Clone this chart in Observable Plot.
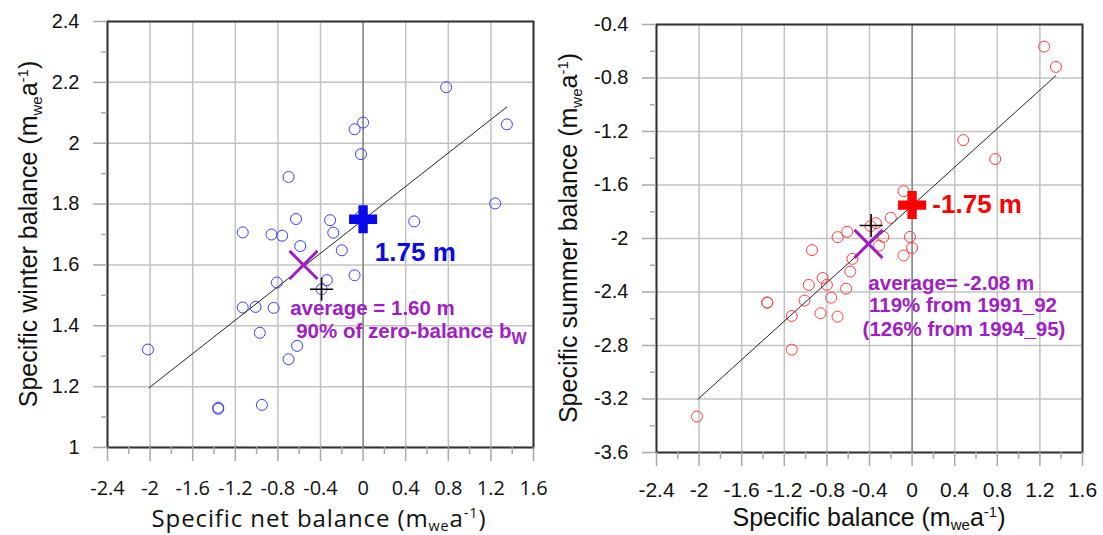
<!DOCTYPE html>
<html><head><meta charset="utf-8">
<script src="https://cdn.jsdelivr.net/npm/d3@7"></script>
<script src="https://cdn.jsdelivr.net/npm/@observablehq/plot@0.6"></script>
<style>
body{margin:0;background:#fff;}
#wrap{display:flex;width:1103px;height:535px;overflow:hidden;}
svg{display:block;}
</style></head><body><div id="wrap"></div>
<script>
// ---------- data ----------
const xTicks = [-2.4, -2, -1.6, -1.2, -0.8, -0.4, 0, 0.4, 0.8, 1.2, 1.6];
const xMinorTicks = [-2.2, -1.8, -1.4, -1.0, -0.6, -0.2, 0.2, 0.6, 1.0, 1.4];
const winterTicks = [1, 1.2, 1.4, 1.6, 1.8, 2, 2.2, 2.4];
const winterMinorTicks = [1.1, 1.3, 1.5, 1.7, 1.9, 2.1, 2.3];
const summerTicks = [-3.6, -3.2, -2.8, -2.4, -2, -1.6, -1.2, -0.8, -0.4];
const summerMinorTicks = [-3.4, -3.0, -2.6, -2.2, -1.8, -1.4, -1.0, -0.6];

// left panel: specific net balance vs winter balance
const winterNet = [0.78, 0.00, -0.08, 1.35, -0.02, -0.70, 1.24, -0.63, -0.31, 0.48, -1.13, -0.86, -0.76, -0.28, -0.59, -0.20, -0.02, -0.08, -0.34, -0.81, -0.39, -1.13, -1.01, -0.84, -0.97, -0.62, -0.70, -2.02, -1.36, -1.36, -0.95];
const winterBal = [2.184, 2.068, 2.046, 2.062, 1.964, 1.889, 1.802, 1.751, 1.747, 1.743, 1.707, 1.700, 1.696, 1.706, 1.662, 1.648, 1.760, 1.566, 1.550, 1.542, 1.520, 1.460, 1.462, 1.459, 1.377, 1.334, 1.290, 1.322, 1.127, 1.131, 1.140];
const winterFitX = [-2.01, 1.35];
const winterFitY = [1.196, 2.119];

// right panel: specific balance vs summer balance
const summerNet = [1.24, 1.35, 0.48, 0.78, -0.08, -0.20, -0.34, -0.39, -0.61, -0.70, -0.27, -0.02, -0.31, 0.00, -0.94, -0.08, -0.56, -0.58, -0.84, -0.80, -0.97, -0.62, -0.76, -1.01, -1.36, -1.13, -0.86, -0.70, -1.13, -2.02, -1.36];
const summerBal = [-0.565, -0.717, -1.264, -1.406, -1.646, -1.845, -1.885, -1.908, -1.950, -1.990, -1.988, -1.988, -2.053, -2.070, -2.087, -2.127, -2.152, -2.247, -2.295, -2.347, -2.347, -2.375, -2.442, -2.464, -2.479, -2.579, -2.559, -2.584, -2.831, -3.331, -2.479];
const summerFitX = [-2.01, 1.35];
const summerFitY = [-3.201, -0.782];

// special markers [x, y]
const winterZero = [0, 1.75];
const winterAvg = [-0.56, 1.60];
const winterRef = [-0.39, 1.52];
const summerZero = [0, -1.75];
const summerAvg = [-0.41, -2.04];
const summerRef = [-0.385, -1.903];

// annotation texts [x, y, text, kind]
const winterNotes = [
  [0.11, 1.639, "1.75 m", "big"],
  [-0.685, 1.456, "average = 1.60 m", "avg"],
  [-0.628, 1.380, "90% of zero-balance b", "avg"]
];
const summerNotes = [
  [0.19, -1.747, "-1.75 m", "big"],
  [-0.411, -2.335, "average= -2.08 m", "avg"],
  [-0.405, -2.502, "119% from 1991_92", "avg"],
  [-0.465, -2.681, "(126% from 1994_95)", "avg"]
];

// ---------- drawing ----------
const fmt = d => String(+(+d).toFixed(1));
const ARIAL = "'Liberation Sans', Arial, sans-serif";
const CALIBRI = "'Open Sans', Lato, sans-serif";
const PURPLE = "#a01ec4";

function panel(cfg) {
  const pts = cfg.xs.map((x, i) => ({x, y: cfg.ys[i]}));
  const fit = cfg.fitX.map((x, i) => ({x, y: cfg.fitY[i]}));
  const notes = cfg.notes.map(([x, y, text, kind]) => ({x, y, text, kind}));
  const plot = Plot.plot({
    width: cfg.width, height: 535,
    marginLeft: cfg.ml, marginRight: cfg.mr, marginTop: cfg.mt, marginBottom: cfg.mb,
    x: {domain: [-2.4, 1.6]},
    y: {domain: cfg.yDomain},
    style: {fontFamily: ARIAL, fontSize: "20px", color: "#222", background: "#fff"},
    marks: [
      Plot.gridX(xTicks, {stroke: "#c2c2c2", strokeOpacity: 1, strokeWidth: 1.5}),
      Plot.gridY(cfg.yTicks, {stroke: "#c2c2c2", strokeOpacity: 1, strokeWidth: 1.5}),
      Plot.gridX([0], {stroke: "#666", strokeOpacity: 1, strokeWidth: 1}),
      Plot.dot(pts, {x: "x", y: "y", r: 5.5, stroke: cfg.dotColor, strokeWidth: 1, fill: "none"}),
      Plot.line(fit, {x: "x", y: "y", stroke: "#222", strokeWidth: 1}),
      Plot.dot([cfg.zero], {x: d => d[0], y: d => d[1], symbol: "cross", r: 11.8, fill: cfg.mainColor, stroke: "none"}),
      Plot.dot([cfg.avg], {x: d => d[0], y: d => d[1], symbol: "times", r: 12.8, stroke: PURPLE, strokeWidth: 3, fill: "none"}),
      Plot.dot([cfg.ref], {x: d => d[0], y: d => d[1], symbol: "plus", r: 7.5, stroke: "#000", strokeWidth: 1.6}),
      Plot.text(notes.filter(d => d.kind === "big"), {x: "x", y: "y", text: "text", textAnchor: "start", fill: cfg.mainColor, fontWeight: "bold", fontSize: 26, fontFamily: ARIAL}),
      Plot.text(notes.filter(d => d.kind === "avg"), {x: "x", y: "y", text: "text", textAnchor: "start", fill: PURPLE, fontWeight: "bold", fontSize: 20.5, fontFamily: ARIAL}),
      Plot.frame({stroke: "#333", strokeWidth: 2}),
      Plot.axisX(xTicks, {tickSize: 14, tickPadding: cfg.xPad, tickFormat: fmt, stroke: "#a8a8a8", strokeWidth: 1.5, label: null}),
      Plot.axisX(xMinorTicks, {tickSize: 7, tickFormat: () => "", stroke: "#a8a8a8", strokeWidth: 1.5, label: null}),
      Plot.axisY(cfg.yTicks, {tickSize: 14, tickPadding: 14, tickFormat: fmt, stroke: "#a8a8a8", strokeWidth: 1.5, label: null}),
      Plot.axisY(cfg.yMinor, {tickSize: 6, tickFormat: () => "", stroke: "#a8a8a8", strokeWidth: 1.5, label: null})
    ]
  });
  const svg = d3.select(plot);
  svg.selectAll('[aria-label="x-axis tick label"] text').style("font-family", cfg.xFont).style("font-size", cfg.xFontSize + "px").style("fill", "#111");
  svg.selectAll('[aria-label="y-axis tick label"] text').style("font-family", ARIAL).style("font-size", "20px").style("fill", "#111");

  const yr = plot.scale("y").range;
  // y title
  const yt = svg.append("text")
    .attr("transform", `translate(${cfg.yTitleX},${(yr[0] + yr[1]) / 2}) rotate(-90)`)
    .attr("text-anchor", "middle").style("font-family", ARIAL).style("font-size", "25px").style("fill", "#111");
  addUnits(yt, cfg.yTitle, 25);
  // x title
  const xt = svg.append("text")
    .attr("x", cfg.xTitleX).attr("y", cfg.xTitleY)
    .attr("text-anchor", "middle").style("font-family", cfg.xFont).style("font-size", cfg.xTitleSize + "px")
    .style("letter-spacing", cfg.xTitleSpacing + "px").style("fill", "#111");
  addUnits(xt, cfg.xTitle, cfg.xTitleSize, 0.15);
  // subscript W
  svg.selectAll("text").filter(function() { return this.textContent === "90% of zero-balance b"; })
    .append("tspan").attr("dy", 6).style("font-size", "16px").text("W");
  return plot;
}

function addUnits(t, label, fs, sub = 0.2) {
  t.append("tspan").text(label + " (m");
  t.append("tspan").attr("dy", fs * sub).style("font-size", (fs * 0.6) + "px").text("we");
  t.append("tspan").attr("dy", -fs * sub).text("a");
  t.append("tspan").attr("dy", -fs * 0.38).style("font-size", (fs * 0.6) + "px").text("-1");
  t.append("tspan").attr("dy", fs * 0.38).text(")");
}

const wrap = document.getElementById("wrap");
wrap.append(panel({
  width: 551, ml: 107, mr: 18, mt: 21, mb: 88,
  yDomain: [1, 2.4], yTicks: winterTicks, yMinor: winterMinorTicks,
  xs: winterNet, ys: winterBal, fitX: winterFitX, fitY: winterFitY,
  zero: winterZero, avg: winterAvg, ref: winterRef, notes: winterNotes,
  dotColor: "#3c3cff", mainColor: "#0a0ae8",
  xFont: CALIBRI, xFontSize: 20, xPad: 19, xTitleSize: 24, xTitleSpacing: 0.9, xTitleX: 319, xTitleY: 527,
  yTitle: "Specific winter balance", yTitleX: 37, xTitle: "Specific net balance"
}));
wrap.append(panel({
  width: 552, ml: 105, mr: 21, mt: 24, mb: 83,
  yDomain: [-3.6, -0.4], yTicks: summerTicks, yMinor: summerMinorTicks,
  xs: summerNet, ys: summerBal, fitX: summerFitX, fitY: summerFitY,
  zero: summerZero, avg: summerAvg, ref: summerRef, notes: summerNotes,
  dotColor: "#ff3c3c", mainColor: "#ff0000",
  xFont: ARIAL, xFontSize: 21, xPad: 16, xTitleSize: 25, xTitleSpacing: 0, xTitleX: 318, xTitleY: 526,
  yTitle: "Specific summer balance", yTitleX: 26, xTitle: "Specific balance"
}));
</script></body></html>
